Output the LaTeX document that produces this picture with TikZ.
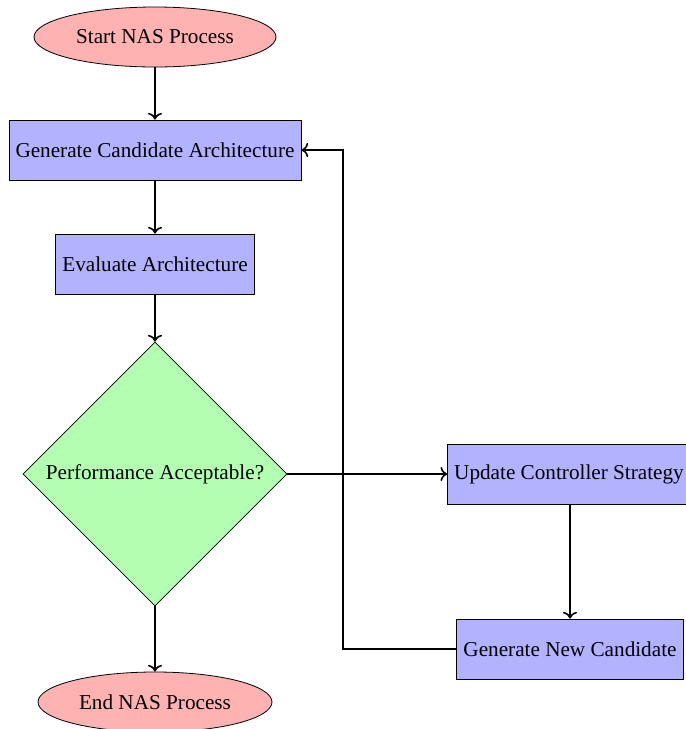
\documentclass[tikz,border=0pt]{standalone}
\usepackage{fontspec}
\setmainfont{Liberation Serif}
\usetikzlibrary{shapes.geometric,arrows.meta}
\begin{document}
\begin{tikzpicture}[x=0.5pt,y=-0.5pt,
  every node/.style={font=\fontsize{10.6pt}{12.7pt}\selectfont},
  term/.style={ellipse,draw,fill=red!30,minimum height=30pt,inner sep=0pt},
  proc/.style={rectangle,draw,fill=blue!30,minimum height=30pt,inner sep=3.3pt},
  dec/.style={diamond,draw,fill=green!30,minimum width=132pt,minimum height=132pt,inner sep=0pt},
  conn/.style={->,thick}]
\useasboundingbox (0,0) rectangle (686,729);
\node[term,minimum width=121pt] (start) at (155,37) {Start NAS Process};
\node[proc] (gen) at (155,150) {Generate Candidate Architecture};
\node[proc] (eval) at (155,264) {Evaluate Architecture};
\node[dec] (perf) at (155,474) {Performance Acceptable?};
\node[term,minimum width=117pt] (end) at (155,702) {End NAS Process};
\node[proc] (upd) at (569,474) {Update Controller Strategy};
\node[proc] (newc) at (570,649) {Generate New Candidate};
\coordinate (loopx) at (343,0);
\draw[conn] (start) -- (gen);
\draw[conn] (gen) -- (eval);
\draw[conn] (eval) -- (perf);
\draw[conn] (perf) -- (end);
\draw[conn] (perf.east) -- (upd.west);
\draw[conn] (upd.south -| newc.north) -- (newc.north);
\draw[conn] (newc.west) -- (loopx |- newc.west) |- (gen.east);
\end{tikzpicture}
\end{document}
